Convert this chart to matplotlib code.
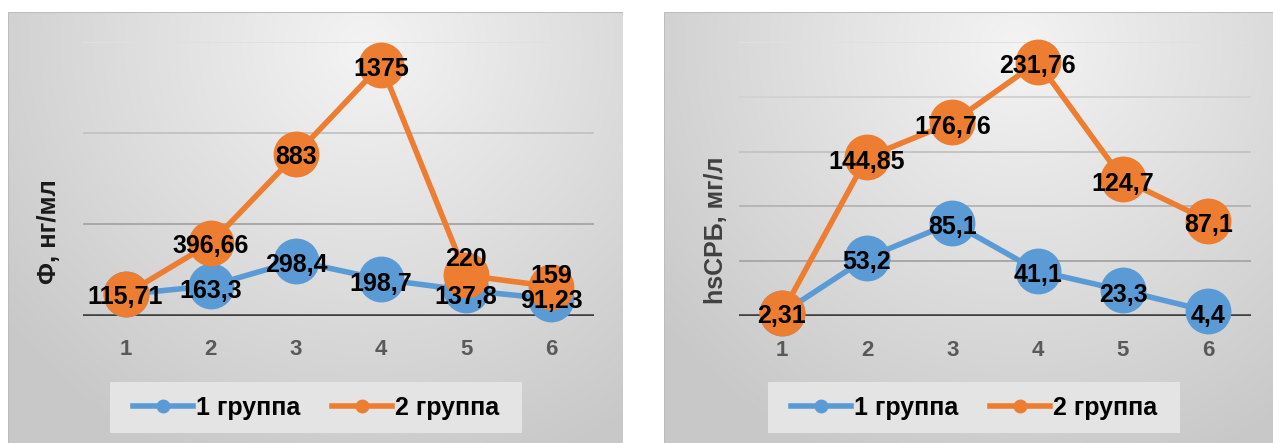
import numpy as np
import matplotlib
matplotlib.use("Agg")
import matplotlib.pyplot as plt
from matplotlib import font_manager
from matplotlib.lines import Line2D
from matplotlib.patches import Rectangle

# ---------------- data ----------------
categories = ["1", "2", "3", "4", "5", "6"]
series_names = ["1 группа", "2 группа"]

left_g1 = [115.71, 163.3, 298.4, 198.7, 137.8, 91.23]
left_g2 = [115.71, 396.66, 883, 1375, 220, 159]
left_g1_labels = ["", "163,3", "298,4", "198,7", "137,8", "91,23"]
left_g2_labels = ["115,71", "396,66", "883", "1375", "220", "159"]
left_ylabel = "Ф, нг/мл"
left_ymax, left_ystep = 1500, 500

right_g1 = [2.31, 53.2, 85.1, 41.1, 23.3, 4.4]
right_g2 = [2.31, 144.85, 176.76, 231.76, 124.7, 87.1]
right_g1_labels = ["", "53,2", "85,1", "41,1", "23,3", "4,4"]
right_g2_labels = ["2,31", "144,85", "176,76", "231,76", "124,7", "87,1"]
right_ylabel = "hsCPБ, мг/л"
right_ymax, right_ystep = 250, 50

# label vertical offsets in pixels (style)
left_g1_off = [0, -3, -1, -2, -4, 0]
left_g2_off = [0, 0, 0, -2, 19, 13]
right_g1_off = [0, -2, -2, -2, -2, -2]
right_g2_off = [0, -2, -2, -2, -2, -2]

# ---------------- style ----------------
W, H = 1273, 443
BLUE = "#5B9BD5"
ORANGE = "#ED7D31"

avail = {f.name for f in font_manager.fontManager.ttflist}
FONT = "Liberation Sans" if "Liberation Sans" in avail else "DejaVu Sans"
plt.rcParams["font.family"] = [FONT, "DejaVu Sans"]

fig = plt.figure(figsize=(W / 100, H / 100), dpi=100)
fig.patch.set_facecolor("white")


def box(x0, y0, x1, y1):
    return [x0 / W, 1 - y1 / H, (x1 - x0) / W, (y1 - y0) / H]


def gradient(w, h, cx=0.58, cy=0.08):
    xs = np.linspace(0, 1, w)
    ys = np.linspace(0, 1, h)
    X, Y = np.meshgrid(xs, ys)
    r = np.sqrt(((X - cx) / 0.75) ** 2 + ((Y - cy) / 1.05) ** 2)
    r = np.clip(r, 0, 1)
    v = 0.955 - 0.17 * r
    return np.dstack([v, v, v])


def panel(px, ax_box, legend_box, ylab_xy, ylab_color, ylab_size,
          g1, g2, l1, l2, o1, o2, ymax, ystep, ylab):
    bg = fig.add_axes(box(*px), zorder=0)
    w, h = int(px[2] - px[0]), int(px[3] - px[1])
    bg.imshow(gradient(w, h), aspect="auto", extent=[0, 1, 0, 1], origin="upper",
              interpolation="bilinear")
    bg.set_xlim(0, 1)
    bg.set_ylim(0, 1)
    bg.axis("off")
    bg.plot([0, 0, 1], [0, 1, 1], color="#bdbdbd", lw=1.5, transform=bg.transAxes)

    # legend backing box
    lb = legend_box
    fig.patches.append(Rectangle((lb[0] / W, 1 - lb[3] / H), (lb[2] - lb[0]) / W,
                                 (lb[3] - lb[1]) / H, transform=fig.transFigure,
                                 facecolor="#e4e4e4", edgecolor="none", zorder=1))

    ax = fig.add_axes(box(*ax_box), zorder=2)
    ax.patch.set_alpha(0)
    x = np.arange(1, len(categories) + 1)
    ax.set_xlim(0.5, len(categories) + 0.5)
    ax.set_ylim(0, ymax)
    for s in ax.spines.values():
        s.set_visible(False)
    levels = np.arange(ystep, ymax + ystep / 2, ystep)
    n = len(levels)
    for i, lv in enumerate(levels):
        shade = 0.66 + 0.22 * (i / max(n - 1, 1))
        ax.axhline(lv, color=(shade, shade, shade), lw=1.4, zorder=1)
    ax.axhline(0, color="#404040", lw=2.6, zorder=2)
    ax.set_yticks([])
    ax.set_xticks(x)
    ax.set_xticklabels(categories, fontsize=16, fontweight="bold", color="#595959")
    ax.tick_params(axis="x", length=0, pad=17)

    ax.plot(x, g1, color=BLUE, lw=4, marker="o", ms=32, mec=BLUE, mfc=BLUE,
            zorder=3, clip_on=False, solid_capstyle="round")
    ax.plot(x, g2, color=ORANGE, lw=4, marker="o", ms=32, mec=ORANGE, mfc=ORANGE,
            zorder=4, clip_on=False, solid_capstyle="round")
    for vals, labs, offs in ((g1, l1, o1), (g2, l2, o2)):
        for xi, v, t, o in zip(x, vals, labs, offs):
            if t:
                ax.annotate(t, (xi, v), xytext=(0, o), textcoords="offset pixels",
                            ha="center", va="center_baseline", fontsize=18,
                            fontweight="bold", color="black", zorder=6,
                            annotation_clip=False)
    fig.text(ylab_xy[0] / W, 1 - ylab_xy[1] / H, ylab, rotation=90, ha="center",
             va="center", fontsize=ylab_size, fontweight="bold", color=ylab_color)

    handles = [Line2D([], [], color=BLUE, lw=4, marker="o", ms=9),
               Line2D([], [], color=ORANGE, lw=4, marker="o", ms=9)]
    cx = (lb[0] + lb[2]) / 2 / W
    cy = 1 - (lb[1] + lb[3]) / 2 / H
    leg = fig.legend(handles, series_names, loc="center", bbox_to_anchor=(cx, cy),
                     ncol=2, frameon=False, handlelength=2.4, handletextpad=0.1,
                     columnspacing=1.3,
                     prop={"size": 18, "weight": "bold", "family": [FONT, "DejaVu Sans"]})
    leg.set_zorder(5)
    return ax


panel((8, 12, 623, 443), (83, 42, 594, 315.5), (110, 382, 522, 433), (49, 232), "#1a1a1a", 18.5,
      left_g1, left_g2, left_g1_labels, left_g2_labels, left_g1_off, left_g2_off,
      left_ymax, left_ystep, left_ylabel)
panel((664, 12, 1273, 443), (739, 42, 1251, 316), (768, 382, 1180, 433), (716, 230), "#404040", 18,
      right_g1, right_g2, right_g1_labels, right_g2_labels, right_g1_off, right_g2_off,
      right_ymax, right_ystep, right_ylabel)

fig.savefig("out.png", dpi=100, facecolor="white")
